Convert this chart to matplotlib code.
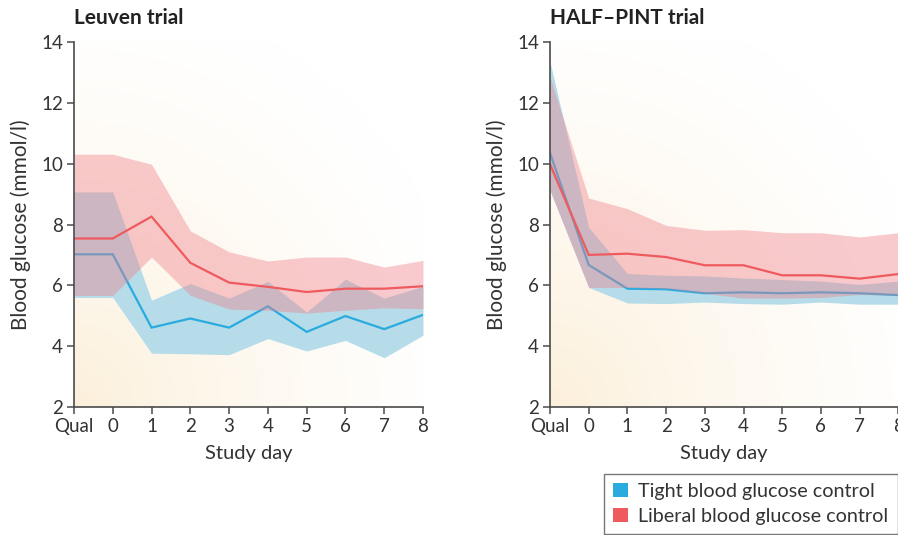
import numpy as np
import matplotlib
matplotlib.use("Agg")
import matplotlib.pyplot as plt
from matplotlib.patches import Patch

plt.rcParams['font.family'] = ['Lato', 'DejaVu Sans']

# ---------------- data ----------------
days = ['Qual', '0', '1', '2', '3', '4', '5', '6', '7', '8']

# Leuven trial
leu_tight_mean = [7.02, 7.02, 4.61, 4.91, 4.61, 5.31, 4.47, 4.99, 4.56, 5.03]
leu_tight_upper = [9.07, 9.07, 5.51, 6.06, 5.58, 6.13, 5.12, 6.20, 5.58, 5.97]
leu_tight_lower = [5.60, 5.60, 3.77, 3.75, 3.72, 4.25, 3.84, 4.19, 3.62, 4.36]
leu_lib_mean = [7.54, 7.54, 8.26, 6.74, 6.09, 5.95, 5.78, 5.89, 5.89, 5.97]
leu_lib_upper = [10.31, 10.31, 9.98, 7.79, 7.10, 6.80, 6.93, 6.93, 6.60, 6.82]
leu_lib_lower = [5.67, 5.67, 6.93, 5.67, 5.22, 5.18, 5.09, 5.18, 5.26, 5.23]

# HALF-PINT trial
hp_tight_mean = [10.35, 6.67, 5.89, 5.87, 5.74, 5.77, 5.74, 5.77, 5.74, 5.68]
hp_tight_upper = [13.35, 7.90, 6.39, 6.33, 6.31, 6.24, 6.19, 6.14, 6.03, 6.14]
hp_tight_lower = [9.12, 5.93, 5.42, 5.40, 5.45, 5.40, 5.38, 5.45, 5.38, 5.38]
hp_lib_mean = [9.98, 7.00, 7.04, 6.93, 6.66, 6.66, 6.33, 6.33, 6.22, 6.37]
hp_lib_upper = [12.85, 8.87, 8.52, 7.97, 7.81, 7.83, 7.73, 7.73, 7.59, 7.73]
hp_lib_lower = [9.12, 5.93, 5.93, 5.90, 5.74, 5.58, 5.58, 5.60, 5.70, 5.67]

yticks = [2, 4, 6, 8, 10, 12, 14]
titles = ['Leuven trial', 'HALF\u2013PINT trial']
legend_labels = ['Tight blood glucose control', 'Liberal blood glucose control']

# ---------------- style ----------------
TXT = '#333333'
AX = '#4a4a4a'
BLUE_FILL = '#b5dce8'
BLUE_LINE = '#2aabe0'
PINK_FILL = '#f07d87'
PINK_ALPHA = 0.40
RED_LINE = '#ef5a5f'
CREAM = np.array([252, 240, 219]) / 255.0

W, H = 898, 535
fig = plt.figure(figsize=(W / 100, H / 100), dpi=100)
fig.patch.set_facecolor('white')


def make_axes(left_px, right_px):
    bottom_px, top_px = 407, 42
    return fig.add_axes([left_px / W, (H - bottom_px) / H,
                         (right_px - left_px) / W, (bottom_px - top_px) / H])


ax1 = make_axes(74, 423)
ax2 = make_axes(550, 898.3)

panels = [
    (ax1, leu_tight_mean, leu_tight_upper, leu_tight_lower,
     leu_lib_mean, leu_lib_upper, leu_lib_lower, titles[0]),
    (ax2, hp_tight_mean, hp_tight_upper, hp_tight_lower,
     hp_lib_mean, hp_lib_upper, hp_lib_lower, titles[1]),
]

# radial gradient background
gx, gy = np.meshgrid(np.linspace(0, 1, 300), np.linspace(0, 1, 300))
d = np.sqrt(gx ** 2 + gy ** 2) / 1.15
t = np.clip(1 - d, 0, 1) ** 1.4
grad = np.ones((300, 300, 3)) * (1 - t[..., None]) + CREAM[None, None, :] * t[..., None]

x = np.arange(len(days))
for ax, tm, tu, tl, lm, lu, ll, title in panels:
    ax.set_xlim(0, len(days) - 1)
    ax.set_ylim(2, 14)
    ax.imshow(grad, extent=[0, len(days) - 1, 2, 14], origin='lower',
              aspect='auto', zorder=0, interpolation='bilinear')
    ax.fill_between(x, tl, tu, color=BLUE_FILL, lw=0, zorder=1)
    ax.plot(x, tm, color=BLUE_LINE, lw=1.6, zorder=2, solid_joinstyle='miter')
    ax.fill_between(x, ll, lu, color=PINK_FILL, alpha=PINK_ALPHA, lw=0, zorder=3)
    ax.plot(x, lm, color=RED_LINE, lw=1.6, zorder=4, solid_joinstyle='miter')

    ax.set_xticks(x)
    ax.set_xticklabels(days)
    ax.set_yticks(yticks)
    ax.set_yticklabels([str(v) for v in yticks])
    for s in ['top', 'right']:
        ax.spines[s].set_visible(False)
    for s in ['left', 'bottom']:
        ax.spines[s].set_color(AX)
        ax.spines[s].set_linewidth(1.2)
        ax.spines[s].set_zorder(6)
    ax.tick_params(axis='both', colors=AX, length=5, width=1.1,
                   labelcolor=TXT, labelsize=13.5, pad=3)
    ax.set_xlabel('Study day', fontsize=14.5, color=TXT, labelpad=7)
    ax.set_ylabel('Blood glucose (mmol/l)', fontsize=15, color=TXT, labelpad=7)
    ax.set_title(title, loc='left', fontsize=15, fontweight='bold',
                 color='#222222', pad=13)
    ax.set_facecolor('white')

handles = [Patch(facecolor=BLUE_LINE, edgecolor='none'),
           Patch(facecolor=RED_LINE, edgecolor='none')]
leg = fig.legend(handles, legend_labels, loc='lower right',
                 bbox_to_anchor=(897.5 / W, 1 / H), bbox_transform=fig.transFigure,
                 fontsize=14.2, frameon=True, fancybox=False, handlelength=0.75,
                 handleheight=0.75, handletextpad=0.55, borderpad=0.45,
                 labelspacing=0.42, borderaxespad=0)
leg.get_frame().set_edgecolor('#555555')
leg.get_frame().set_linewidth(1.0)
for txt in leg.get_texts():
    txt.set_color(TXT)

fig.savefig('out.png', dpi=100)
